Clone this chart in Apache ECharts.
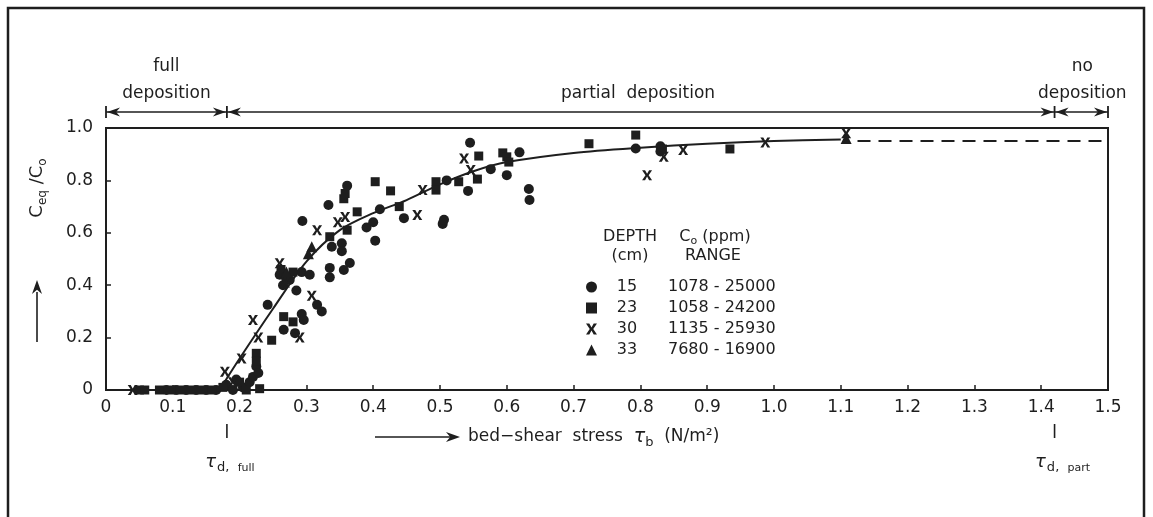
<!DOCTYPE html>
<html><head><meta charset="utf-8">
<script src="https://cdn.jsdelivr.net/npm/echarts@6/dist/echarts.min.js"></script>
<style>html,body{margin:0;padding:0;background:#fff}#c{width:1153px;height:517px}</style>
</head><body><div id="c"></div>
<script>
// ---------- data ----------
const xTickLabels = ['0','0.1','0.2','0.3','0.4','0.5','0.6','0.7','0.8','0.9','1.0','1.1','1.2','1.3','1.4','1.5'];
const yTickLabels = ['0','0.2','0.4','0.6','0.8','1.0'];

const depth15 = [[0.09,0],[0.105,0],[0.12,0],[0.135,0],[0.15,0],[0.165,0],
[0.18,0.02],[0.19,0],[0.195,0.04],[0.205,0.01],[0.215,0.03],[0.22,0.05],
[0.225,0.09],[0.228,0.065],[0.242,0.325],[0.266,0.23],[0.283,0.217],
[0.26,0.44],[0.265,0.40],[0.275,0.42],[0.285,0.38],
[0.293,0.29],[0.296,0.267],[0.316,0.325],[0.323,0.30],
[0.293,0.45],[0.305,0.44],[0.335,0.466],[0.335,0.43],[0.356,0.458],[0.365,0.485],
[0.338,0.547],[0.353,0.56],[0.353,0.53],[0.294,0.645],[0.333,0.706],[0.361,0.78],
[0.39,0.62],[0.40,0.64],[0.403,0.57],[0.41,0.69],[0.446,0.656],
[0.504,0.634],[0.506,0.65],[0.51,0.80],[0.542,0.76],[0.545,0.944],[0.576,0.843],
[0.60,0.82],[0.619,0.907],[0.633,0.767],[0.634,0.725],[0.793,0.922],[0.83,0.93],[0.83,0.91]];

const depth23 = [[0.05,0],[0.058,0],[0.08,0],[0.097,0],[0.113,0],[0.128,0],[0.143,0],[0.158,0],
[0.175,0.01],[0.2,0.03],[0.21,0],[0.23,0.005],
[0.225,0.14],[0.225,0.11],[0.248,0.19],[0.266,0.28],[0.28,0.26],
[0.262,0.46],[0.27,0.43],[0.28,0.45],
[0.335,0.585],[0.361,0.61],[0.356,0.73],[0.358,0.75],[0.376,0.68],
[0.403,0.795],[0.426,0.76],[0.439,0.70],[0.494,0.795],[0.494,0.763],
[0.528,0.795],[0.556,0.805],[0.558,0.893],[0.594,0.905],[0.60,0.89],[0.603,0.87],
[0.723,0.94],[0.793,0.973],[0.833,0.92],[0.934,0.92]];

const depth30 = [[0.04,0],[0.178,0.07],[0.19,0.03],[0.203,0.12],[0.22,0.267],[0.228,0.2],
[0.26,0.484],[0.268,0.41],[0.29,0.2],[0.308,0.36],[0.316,0.61],[0.347,0.64],[0.358,0.66],
[0.466,0.668],[0.474,0.763],[0.536,0.884],[0.546,0.84],
[0.81,0.82],[0.835,0.89],[0.864,0.916],[0.987,0.945],[1.108,0.98]];

const depth33 = [[0.27,0.45],[0.303,0.52],[0.308,0.547],[1.108,0.96]];

const fitCurve = [[0.17,0],[0.2,0.12],[0.25,0.31],[0.3,0.49],[0.35,0.61],[0.4,0.675],[0.45,0.725],
[0.5,0.785],[0.55,0.835],[0.6,0.87],[0.7,0.905],[0.8,0.925],[0.9,0.94],[1.0,0.95],[1.1,0.956]];
const fitExtension = [[1.125,0.95],[1.5,0.95]];

const legendDepths = ['15','23','30','33'];
const legendRanges = ['1078 - 25000','1058 - 24200','1135 - 25930','7680 - 16900'];

const tauFull = 0.181, tauPart = 1.42;

// ---------- chart ----------
const FONT = 'DejaVu Sans';
const INK = '#1e1e1e';
const XPATH = 'path://M0,0L3,0L5,3.6L7,0L10,0L6.6,5L10,10L7,10L5,6.4L3,10L0,10L3.4,5Z';
const chart = echarts.init(document.getElementById('c'), null, {renderer:'canvas'});

const symbols = ['circle','rect',XPATH,'triangle'];
const sizes = [10,9,10,11];
const seriesData = [depth15, depth23, depth30, depth33];

const series = seriesData.map((d,i)=>({
  name: legendDepths[i], type:'scatter', data:d, symbol:symbols[i], symbolSize:sizes[i],
  itemStyle:{color:INK, opacity:1}, z:3
}));
series.push({type:'line', data:fitCurve, smooth:0.3, symbol:'none', lineStyle:{color:INK,width:2}, z:2});
series.push({type:'line', data:fitExtension, symbol:'none', lineStyle:{color:INK,width:2,type:[13,8]}, z:2});

chart.setOption({
  animation:false,
  backgroundColor:'#fff',
  grid:{left:106, right:45, top:128, bottom:127, show:true, borderColor:INK, borderWidth:2, backgroundColor:'transparent'},
  xAxis:{type:'value', min:0, max:1.5, interval:0.1,
    axisLine:{show:true, lineStyle:{color:INK,width:2}},
    axisTick:{show:true, inside:true, length:5, lineStyle:{color:INK,width:1.5}},
    splitLine:{show:false},
    axisLabel:{margin:9, color:INK, fontFamily:FONT, fontSize:17,
      formatter:v=>xTickLabels[Math.round(v*10)]}},
  yAxis:{type:'value', min:0, max:1, interval:0.2,
    axisLine:{show:true, lineStyle:{color:INK,width:2}},
    axisTick:{show:true, inside:true, length:5, lineStyle:{color:INK,width:1.5}},
    splitLine:{show:false},
    axisLabel:{margin:13, color:INK, fontFamily:FONT, fontSize:17,
      formatter:v=>yTickLabels[Math.round(v*5)]}},
  legend:{
    orient:'vertical', left:581, top:273, itemWidth:11, itemHeight:11, itemGap:3,
    selectedMode:false,
    data: legendDepths.map((n,i)=>({name:n, icon:symbols[i]})),
    itemStyle:{color:INK, opacity:1},
    formatter: n => '{d|'+n+'}{r|'+legendRanges[legendDepths.indexOf(n)]+'}',
    textStyle:{color:INK, fontFamily:FONT, fontSize:16, lineHeight:18,
      rich:{d:{width:50, align:'center', fontFamily:FONT, fontSize:16, lineHeight:18},
            r:{padding:[0,0,0,16], fontFamily:FONT, fontSize:16, lineHeight:18}}}
  },
  series: series
});

// ---------- annotations ----------
const px = v => chart.convertToPixel({xAxisIndex:0}, v);
const x0 = px(0), xF = px(tauFull), xP = px(tauPart), x1 = px(1.5);
const g = [];
const line = (a,b,c,d,w) => g.push({type:'line', shape:{x1:a,y1:b,x2:c,y2:d}, style:{stroke:INK, lineWidth:w||1.6}, silent:true});
const head = (tx,ty,dir,len,hw) => {
  let pts;
  if(dir==='l') pts=[[tx,ty],[tx+len,ty-hw],[tx+len*0.7,ty],[tx+len,ty+hw]];
  else if(dir==='r') pts=[[tx,ty],[tx-len,ty-hw],[tx-len*0.7,ty],[tx-len,ty+hw]];
  else pts=[[tx,ty],[tx-hw,ty+len],[tx,ty+len*0.7],[tx+hw,ty+len]];
  g.push({type:'polygon', shape:{points:pts}, style:{fill:INK}, silent:true});
};
const txt = (x,y,t,opt) => g.push(Object.assign({type:'text', x:x, y:y, silent:true,
  style:Object.assign({text:t, fill:INK, font:'17px "'+FONT+'"', align:'center', verticalAlign:'middle'}, (opt&&opt.style)||{})},
  opt&&opt.el||{}));

// outer frame
g.push({type:'rect', shape:{x:8,y:8,width:1136,height:530}, style:{fill:'none', stroke:INK, lineWidth:2.5}, silent:true});

// top region arrows
const ya = 112;
line(x0,ya,x1,ya,1.6);
[x0,xF,xP,x1].forEach(x=>line(x,ya-6,x,ya+6,1.8));
head(x0+1,ya,'l',13,4.5); head(xF-1,ya,'r',13,4.5);
head(xF+1,ya,'l',13,4.5); head(xP-1,ya,'r',13,4.5);
head(xP+1,ya,'l',13,4.5); head(x1-1,ya,'r',13,4.5);
txt((x0+xF)/2,67,'full');
txt((x0+xF)/2,94,'deposition');
txt(638,94,'partial  deposition');
txt((xP+x1)/2+1,67,'no');
txt((xP+x1)/2+1,94,'deposition');

// tau markers below x axis
line(xF,424,xF,438,1.6);
line(xP,424,xP,438,1.6);
const tauRich = {t:{fontSize:18, fontStyle:'italic', fontFamily:FONT, padding:[0,1,0,0]},
  s:{fontSize:13, fontFamily:FONT, padding:[12,0,0,0]}, s2:{fontSize:11, fontFamily:FONT, padding:[12,0,0,0]}};
txt(xF+3,462,'{t|τ}{s|d,  }{s2|full}',{style:{rich:tauRich}});
txt(xP+8,462,'{t|τ}{s|d,  }{s2|part}',{style:{rich:tauRich}});

// x axis title with arrow
line(375,437,452,437,1.6); head(460,437,'r',14,5);
g.push({type:'text', x:468, y:437, silent:true, style:{
  text:'{n|bed−shear  stress  }{t|τ}{s|b}{n|  (N/m²)}', fill:INK, align:'left', verticalAlign:'middle',
  rich:{n:{fontSize:17, fontFamily:FONT}, t:{fontSize:19, fontStyle:'italic', fontFamily:FONT},
        s:{fontSize:13, fontFamily:FONT, padding:[12,0,0,0]}}}});

// y axis title with arrow
line(37,342,37,292,1.6); head(37,280,'u',14,5);
g.push({type:'text', x:37, y:188, rotation:Math.PI/2, silent:true, style:{
  text:'{n|C}{s|eq}{n| /C}{s|o}', fill:INK, align:'center', verticalAlign:'middle',
  rich:{n:{fontSize:18, fontFamily:FONT}, s:{fontSize:12, fontFamily:FONT, padding:[12,0,0,0]}}}});

// legend headers
const hs = {font:'16px "'+FONT+'"'};
txt(630,237,'DEPTH',{style:hs});
txt(630,256,'(cm)',{style:hs});
g.push({type:'text', x:715, y:237, silent:true, style:{
  text:'{n|C}{s|o}{n| (ppm)}', fill:INK, align:'center', verticalAlign:'middle',
  rich:{n:{fontSize:16, fontFamily:FONT}, s:{fontSize:11, fontFamily:FONT, padding:[9,0,0,0]}}}});
txt(713,256,'RANGE',{style:hs});

chart.setOption({graphic:{elements:g}});
</script></body></html>
